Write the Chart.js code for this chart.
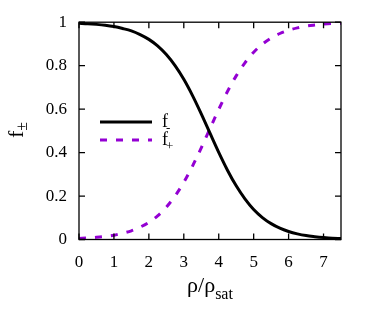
<!DOCTYPE html>
<html><head><meta charset="utf-8">
<script src="https://cdn.jsdelivr.net/npm/chart.js@4"></script>
<style>html,body{margin:0;padding:0;background:#fff}#wrap{width:374px;height:317px}</style>
</head><body><div id="wrap"><canvas id="c" width="374" height="317"></canvas></div>
<script>
const xValues = [0,0.25,0.5,0.75,1,1.25,1.5,1.75,2,2.25,2.5,2.75,3,3.25,3.5,3.75,4,4.25,4.5,4.75,5,5.25,5.5,5.75,6,6.25,6.5,6.75,7,7.25,7.5];
const fMinus = [0.995,0.993,0.990,0.986,0.980,0.971,0.960,0.943,0.921,0.891,0.851,0.800,0.737,0.662,0.578,0.489,0.401,0.319,0.247,0.187,0.138,0.101,0.073,0.052,0.037,0.026,0.018,0.013,0.009,0.006,0.0045];
const fPlus  = [0.005,0.007,0.010,0.014,0.020,0.029,0.040,0.057,0.079,0.109,0.149,0.200,0.263,0.338,0.422,0.511,0.599,0.681,0.753,0.813,0.862,0.899,0.927,0.948,0.963,0.974,0.982,0.987,0.991,0.994,0.9955];
const xTicks = [0,1,2,3,4,5,6,7];
const yTicks = [0,0.2,0.4,0.6,0.8,1];
const yTickLabels = ['0','0.2','0.4','0.6','0.8','1'];

const SERIF = "'Liberation Serif', 'DejaVu Serif', serif";
const PURPLE = '#9400d3';

const decor = {
  id:'decor',
  afterDraw(chart){
    const ctx = chart.ctx, a = chart.chartArea;
    const xs = chart.scales.x, ys = chart.scales.y;
    ctx.save();
    ctx.strokeStyle = '#000'; ctx.lineWidth = 1.3;
    ctx.strokeRect(a.left, a.top, a.right-a.left, a.bottom-a.top);
    const L = 6;
    ctx.beginPath();
    xTicks.forEach(v=>{ const p = xs.getPixelForValue(v);
      ctx.moveTo(p,a.bottom); ctx.lineTo(p,a.bottom-L);
      ctx.moveTo(p,a.top); ctx.lineTo(p,a.top+L); });
    yTicks.forEach(v=>{ const p = ys.getPixelForValue(v);
      ctx.moveTo(a.left,p); ctx.lineTo(a.left+L,p);
      ctx.moveTo(a.right,p); ctx.lineTo(a.right-L,p); });
    ctx.stroke();
    // legend
    const ds = chart.data.datasets;
    const ly = [122, 140];
    ds.forEach((d,i)=>{
      ctx.beginPath();
      ctx.strokeStyle = d.borderColor; ctx.lineWidth = d.borderWidth;
      ctx.setLineDash(d.borderDash || []);
      ctx.moveTo(100, ly[i]); ctx.lineTo(152, ly[i]); ctx.stroke();
      ctx.setLineDash([]);
      ctx.fillStyle = '#000'; ctx.textBaseline='alphabetic'; ctx.textAlign='left';
      ctx.font = '18px '+SERIF;
      ctx.fillText('f', 162, ly[i]+5);
      ctx.font = '13px '+SERIF;
      ctx.fillText(i===0?'-':'+', 166, ly[i]+10);
    });
    // x title
    ctx.fillStyle='#000';
    const main = 'ρ/ρ';
    ctx.font = '22px '+SERIF; const w1 = ctx.measureText(main).width;
    ctx.font = '16px '+SERIF; const w2 = ctx.measureText('sat').width;
    const cx = (a.left+a.right)/2, x0 = cx - (w1+w2)/2;
    ctx.textAlign='left'; ctx.textBaseline='alphabetic';
    ctx.font = '22px '+SERIF; ctx.fillText(main, x0, 292);
    ctx.font = '16px '+SERIF; ctx.fillText('sat', x0+w1, 299);
    // y title
    ctx.translate(23, 130); ctx.rotate(-Math.PI/2);
    ctx.font = '22px '+SERIF; const wf = ctx.measureText('f').width;
    ctx.font = '16px '+SERIF; const wp = ctx.measureText('±').width;
    const sx = -(wf+wp)/2;
    ctx.font = '22px '+SERIF; ctx.fillText('f', sx, 0);
    ctx.font = '16px '+SERIF; ctx.fillText('±', sx+wf, 4);
    ctx.restore();
  }
};

new Chart(document.getElementById('c'), {
  type:'line',
  data:{ datasets:[
    {label:'f-', data: xValues.map((x,i)=>({x, y:fMinus[i]})), borderColor:'#000', borderWidth:3, pointRadius:0, fill:false, cubicInterpolationMode:'monotone'},
    {label:'f+', data: xValues.map((x,i)=>({x, y:fPlus[i]})), borderColor:PURPLE, borderWidth:3, borderDash:[7,9], borderCapStyle:'butt', pointRadius:0, fill:false, cubicInterpolationMode:'monotone'}
  ]},
  options:{
    responsive:false, animation:false,
    layout:{padding:{top:22, right:33, left:0, bottom:0}},
    plugins:{legend:{display:false}, tooltip:{enabled:false}},
    scales:{
      x:{type:'linear', min:0, max:7.5,
        afterBuildTicks(s){ s.ticks = xTicks.map(v=>({value:v})); },
        afterFit(s){ s.height = 77.5; },
        grid:{display:false, drawTicks:false}, border:{display:false},
        ticks:{color:'#000', padding:13, maxRotation:0, font:{family:SERIF, size:17}, callback:(v)=>String(v)}},
      y:{type:'linear', min:0, max:1,
        afterBuildTicks(s){ s.ticks = yTicks.map(v=>({value:v})); },
        afterFit(s){ s.width = 79; },
        grid:{display:false, drawTicks:false}, border:{display:false},
        ticks:{color:'#000', padding:12, font:{family:SERIF, size:17}, callback:(v,i)=>yTickLabels[i]}}
    }
  },
  plugins:[decor]
});
</script></body></html>
